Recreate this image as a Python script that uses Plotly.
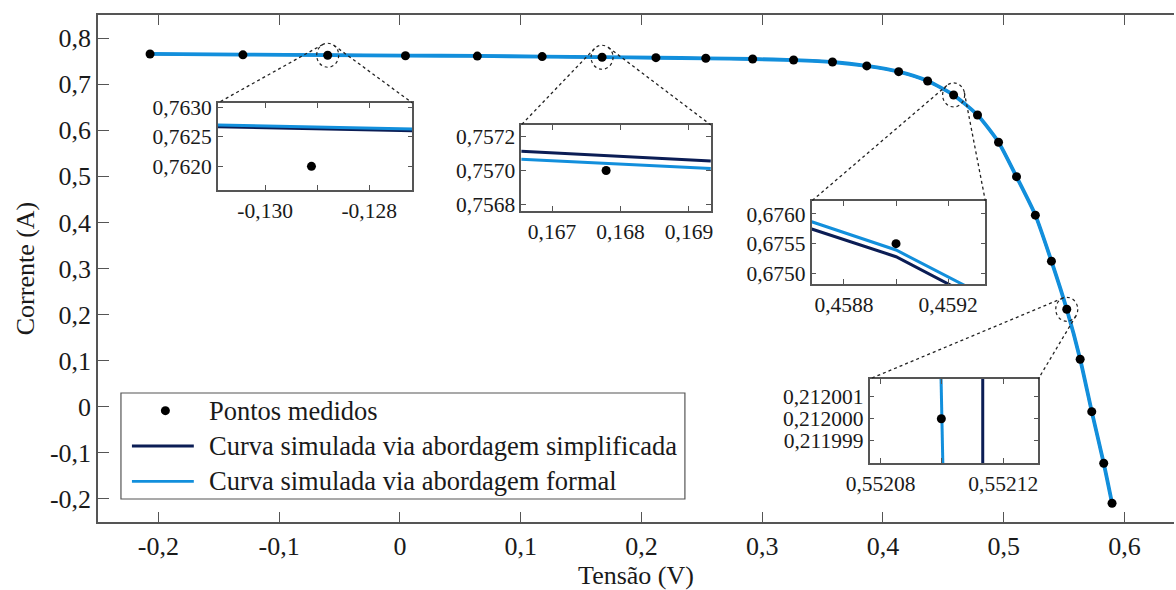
import math
import plotly.graph_objects as go

# ---------------- data ----------------
volt_meas = [-0.2069, -0.1300, -0.0598, 0.0046, 0.0641, 0.1178, 0.1674, 0.2120, 0.2533,
             0.2921, 0.3260, 0.3582, 0.3866, 0.4130, 0.4370, 0.4585, 0.4783, 0.4957,
             0.5106, 0.5262, 0.5395, 0.5522, 0.5633, 0.5729, 0.5828, 0.5897]
curr_meas = [0.7654, 0.7636, 0.7627, 0.7617, 0.7609, 0.7597, 0.7583, 0.7574, 0.7561,
             0.7546, 0.7524, 0.7481, 0.7395, 0.7271, 0.7069, 0.6765, 0.6331, 0.5739,
             0.4992, 0.4157, 0.3159, 0.2115, 0.1031, -0.0106, -0.1226, -0.2094]

volt_curve = volt_meas
curr_simpl = [0.7655, 0.7640, 0.7630, 0.7620, 0.7611, 0.7598, 0.7584, 0.7573, 0.7560,
              0.7545, 0.7522, 0.7479, 0.7393, 0.7269, 0.7067, 0.6762, 0.6329, 0.5739,
              0.4989, 0.4157, 0.3159, 0.2114, 0.1031, -0.0106, -0.1226, -0.2095]
curr_formal = [0.7655, 0.7640, 0.7630, 0.7620, 0.7611, 0.7598, 0.7584, 0.7573, 0.7560,
               0.7545, 0.7522, 0.7480, 0.7394, 0.7270, 0.7068, 0.6763, 0.6330, 0.5740,
               0.4990, 0.4158, 0.3160, 0.2115, 0.1032, -0.0105, -0.1225, -0.2094]

x_ticks = [-0.2, -0.1, 0.0, 0.1, 0.2, 0.3, 0.4, 0.5, 0.6]
y_ticks = [-0.2, -0.1, 0.0, 0.1, 0.2, 0.3, 0.4, 0.5, 0.6, 0.7, 0.8]

# insets: zoomed views
ins1_v = [-0.13091, -0.12717]
ins1_simpl = [0.76267, 0.76260]
ins1_formal = [0.76270, 0.76263]
ins1_pt = ([-0.12911], [0.7620])
ins1_xt = [-0.130, -0.129, -0.128]; ins1_xl = ['-0,130', '', '-0,128']
ins1_yt = [0.7620, 0.7625, 0.7630]; ins1_yl = ['0,7620', '0,7625', '0,7630']

ins2_v = [0.16655, 0.16932]
ins2_simpl = [0.757115, 0.757057]
ins2_formal = [0.757067, 0.757012]
ins2_pt = ([0.16779], [0.75700])
ins2_xt = [0.167, 0.168, 0.169]; ins2_xl = ['0,167', '0,168', '0,169']
ins2_yt = [0.7568, 0.7570, 0.7572]; ins2_yl = ['0,7568', '0,7570', '0,7572']

ins3_v = [0.458676, 0.459000, 0.459300]
ins3_simpl = [0.675747, 0.675280, 0.674593]
ins3_formal = [0.675870, 0.675393, 0.674713]
ins3_pt = ([0.4590], [0.6755])
ins3_xt = [0.4588, 0.4590, 0.4592]; ins3_xl = ['0,4588', '', '0,4592']
ins3_yt = [0.6750, 0.6755, 0.6760]; ins3_yl = ['0,6750', '0,6755', '0,6760']

ins4_v_simpl = [0.5521133, 0.5521133]
ins4_v_formal = [0.5520997, 0.5521003]
ins4_i = [0.2120019, 0.2119979]
ins4_pt = ([0.5520998], [0.2120000])
ins4_xt = [0.55208, 0.55210, 0.55212]; ins4_xl = ['0,55208', '', '0,55212']
ins4_yt = [0.211999, 0.212000, 0.212001]; ins4_yl = ['0,211999', '0,212000', '0,212001']

# ---------------- layout geometry ----------------
W, H = 1176, 590
ML, MR, MT, MB = 98, 0, 15, 68
PW, PH = W - ML - MR, H - MT - MB
X_RANGE = [-0.25, 0.641]
Y_RANGE = [-0.25, 0.85]

C_DARK = '#0b1d55'
C_LIGHT = '#128fdc'
C_AX = '#555555'
FONT = 'Liberation Serif'
TXT = '#1a1a1a'


def px_x(v):
    return ML + (v - X_RANGE[0]) / (X_RANGE[1] - X_RANGE[0]) * PW


def px_y(i):
    return MT + (Y_RANGE[1] - i) / (Y_RANGE[1] - Y_RANGE[0]) * PH


def pap(px, py):
    return (px - ML) / PW, (MT + PH - py) / PH


fmt = lambda v: '0' if abs(v) < 1e-12 else f'{v:.1f}'.replace('.', ',')

fig = go.Figure()

# main curves
fig.add_trace(go.Scatter(x=volt_curve, y=curr_simpl, mode='lines', line=dict(color=C_DARK, width=2.5, shape='spline', smoothing=0.6),
                         showlegend=False, xaxis='x', yaxis='y'))
fig.add_trace(go.Scatter(x=volt_curve, y=curr_formal, mode='lines', line=dict(color=C_LIGHT, width=3.8, shape='spline', smoothing=0.6),
                         showlegend=False, xaxis='x', yaxis='y'))
fig.add_trace(go.Scatter(x=volt_meas, y=curr_meas, mode='markers', marker=dict(color='black', size=9),
                         showlegend=False, xaxis='x', yaxis='y'))

axis_common = dict(showline=True, linecolor=C_AX, linewidth=1.5, ticks='inside', tickcolor=C_AX,
                   showgrid=False, zeroline=False)
main_tick_font = dict(family=FONT, size=26, color=TXT)
title_font = dict(family=FONT, size=26, color=TXT)

layout = dict(
    width=W, height=H, margin=dict(l=ML, r=MR, t=MT, b=MB),
    paper_bgcolor='white', plot_bgcolor='#ffffff',
    font=dict(family=FONT, size=26, color=TXT),
    showlegend=False,
    xaxis=dict(axis_common, domain=[0, 1], range=X_RANGE, mirror='ticks', ticklen=10,
               tickvals=x_ticks, ticktext=[fmt(v) for v in x_ticks], tickfont=main_tick_font,
               title=dict(text='Tensão (V)', standoff=5, font=title_font), anchor='y'),
    yaxis=dict(axis_common, domain=[0, 1], range=Y_RANGE, mirror=False, ticklen=11,
               tickvals=y_ticks, ticktext=[fmt(v) for v in y_ticks], tickfont=main_tick_font,
               title=dict(text='Corrente (A)', standoff=8, font=title_font), anchor='x'),
)

insets = [
    dict(box=(218, 103, 413, 190), xr=[-0.13091, -0.12717], yr=[0.76160, 0.76307],
         lines=[(ins1_v, ins1_simpl, C_DARK), (ins1_v, ins1_formal, C_LIGHT)], pt=ins1_pt,
         xt=ins1_xt, xl=ins1_xl, yt=ins1_yt, yl=ins1_yl, target=2),
    dict(box=(522, 125, 712, 211), xr=[0.16655, 0.16932], yr=[0.75676, 0.75727],
         lines=[(ins2_v, ins2_simpl, C_DARK), (ins2_v, ins2_formal, C_LIGHT)], pt=ins2_pt,
         xt=ins2_xt, xl=ins2_xl, yt=ins2_yt, yl=ins2_yl, target=6),
    dict(box=(813, 201, 987, 284), xr=[0.458676, 0.459343], yr=[0.674820, 0.676219],
         lines=[(ins3_v, ins3_simpl, C_DARK), (ins3_v, ins3_formal, C_LIGHT)], pt=ins3_pt,
         xt=ins3_xt, xl=ins3_xl, yt=ins3_yt, yl=ins3_yl, target=15),
    dict(box=(871, 379, 1040, 463), xr=[0.5520764, 0.5521314], yr=[0.2119980, 0.2120018],
         lines=[(ins4_v_simpl, ins4_i, C_DARK), (ins4_v_formal, ins4_i, C_LIGHT)], pt=ins4_pt,
         xt=ins4_xt, xl=ins4_xl, yt=ins4_yt, yl=ins4_yl, target=21),
]

shapes = []
RX, RY = 11, 12
for k, ins in enumerate(insets, start=2):
    l, t, r, b = ins['box']
    x0p, y1p = pap(l, t)
    x1p, y0p = pap(r, b)
    xa, ya = f'x{k}', f'y{k}'
    for xs, ys, col in ins['lines']:
        fig.add_trace(go.Scatter(x=xs, y=ys, mode='lines', line=dict(color=col, width=3),
                                 showlegend=False, xaxis=xa, yaxis=ya))
    fig.add_trace(go.Scatter(x=ins['pt'][0], y=ins['pt'][1], mode='markers',
                             marker=dict(color='black', size=9), showlegend=False, xaxis=xa, yaxis=ya))
    ic = dict(axis_common, ticklen=5, mirror='ticks', tickfont=dict(family=FONT, size=21.5, color=TXT))
    layout[f'xaxis{k}'] = dict(ic, domain=[x0p, x1p], range=ins['xr'], anchor=ya,
                               tickvals=ins['xt'], ticktext=ins['xl'])
    layout[f'yaxis{k}'] = dict(ic, domain=[y0p, y1p], range=ins['yr'], anchor=xa,
                               tickvals=ins['yt'], ticktext=ins['yl'])

    # dashed ellipse around the zoomed measured point
    vx, vy = volt_meas[ins['target']], curr_meas[ins['target']]
    shapes.append(dict(type='circle', xref='x', yref='y', xsizemode='pixel', ysizemode='pixel',
                       xanchor=vx, yanchor=vy, x0=-RX, x1=RX, y0=-RY, y1=RY,
                       line=dict(color='#222', width=1.2, dash='dot'), layer='above'))
    # connector lines tangent to the ellipse, to the inset's top corners
    cx, cy = px_x(vx), px_y(vy)
    for corner, side in (((l, t), -1), ((r, t), 1)):
        dx, dy = corner[0] - cx, (corner[1] - cy) * RX / RY
        d = math.hypot(dx, dy)
        th = math.atan2(dy, dx)
        a = math.acos(min(1.0, RX / d))
        cands = [(RX * math.cos(th + s * a), RX * math.sin(th + s * a) * RY / RX) for s in (1, -1)]
        tp = min(cands, key=lambda p: side * -p[0])
        p0 = pap(cx + tp[0], cy + tp[1])
        p1 = pap(*corner)
        shapes.append(dict(type='line', xref='paper', yref='paper', x0=p0[0], y0=p0[1], x1=p1[0], y1=p1[1],
                           line=dict(color='#222', width=1.3, dash='dot'), layer='above'))

# ---------------- legend (drawn manually) ----------------
legend_labels = ['Pontos medidos', 'Curva simulada via abordagem simplificada', 'Curva simulada via abordagem formal']
LB = (121, 393, 686, 499)
lx0, ly1 = pap(LB[0], LB[1])
lx1, ly0 = pap(LB[2], LB[3])
shapes.append(dict(type='rect', xref='paper', yref='paper', x0=lx0, x1=lx1, y0=ly0, y1=ly1,
                   fillcolor='white', line=dict(color=C_AX, width=1.2), layer='above'))
annotations = []
row_h = (LB[3] - LB[1]) / 3
for j, lab in enumerate(legend_labels):
    yc = LB[1] + row_h * (j + 0.5)
    if j == 0:
        a0 = pap(165.5 - 4.5, yc - 4.5)
        a1 = pap(165.5 + 4.5, yc + 4.5)
        shapes.append(dict(type='circle', xref='paper', yref='paper', x0=a0[0], x1=a1[0], y0=a1[1], y1=a0[1],
                           fillcolor='black', line=dict(color='black', width=0), layer='above'))
    else:
        col = C_DARK if j == 1 else C_LIGHT
        a0 = pap(132, yc)
        a1 = pap(194, yc)
        shapes.append(dict(type='line', xref='paper', yref='paper', x0=a0[0], x1=a1[0], y0=a0[1], y1=a1[1],
                           line=dict(color=col, width=2.8), layer='above'))
    tp = pap(207, yc)
    annotations.append(dict(xref='paper', yref='paper', x=tp[0], y=tp[1], text=lab, showarrow=False,
                            xanchor='left', yanchor='middle', font=dict(family=FONT, size=26.5, color=TXT)))

layout['shapes'] = shapes
layout['annotations'] = annotations
fig.update_layout(**layout)

fig.write_html('out.html')
